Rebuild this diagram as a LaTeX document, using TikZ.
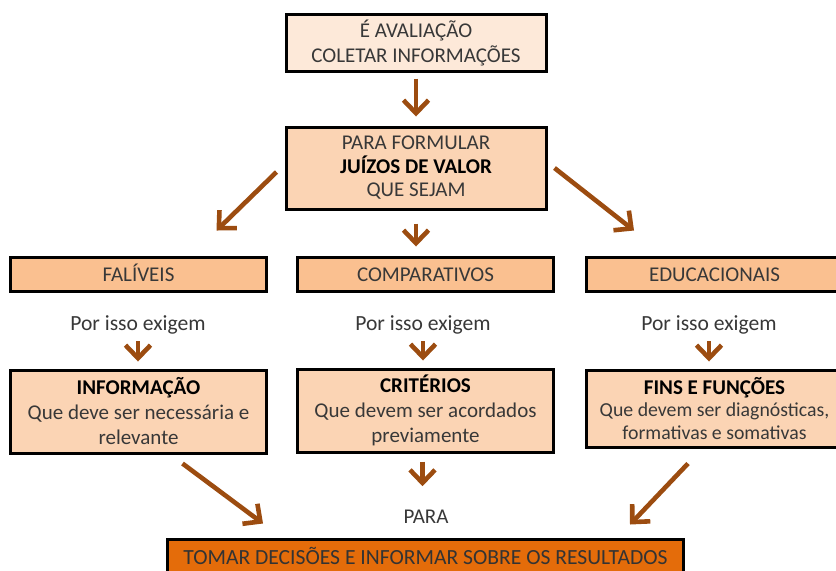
\documentclass[tikz,border=0pt]{standalone}
\usepackage{fontspec}
\setmainfont{Carlito}
\usetikzlibrary{arrows.meta,calc}
\definecolor{peachA}{HTML}{FDE9D9}
\definecolor{peachB}{HTML}{FBD4B4}
\definecolor{peachC}{HTML}{FAC090}
\definecolor{orangeD}{HTML}{E46C0A}
\definecolor{arrowbrown}{RGB}{156,76,16}
\definecolor{txt}{HTML}{383838}

\begin{document}
\begin{tikzpicture}[x=0.5pt,y=-0.5pt,
    box/.style={draw=black,line width=1.5pt,align=center,text=txt,inner sep=0pt,
        font=\fontsize{10.5}{12.5}\selectfont},
    arr/.style={draw=arrowbrown,line width=2.3pt,-{Straight Barb[length=6.5pt,width=12.5pt]}},
    note/.style={text=txt,font=\fontsize{10.8}{12}\selectfont}]
    \useasboundingbox (0,0) rectangle (836,570);
    %draw top boxes
    \node[box,fill=peachA,minimum width=130pt,minimum height=28.5pt] (eval) at (416,42.5)
        {É AVALIAÇÃO\\COLETAR INFORMAÇÕES};
    \node[box,fill=peachB,minimum width=130pt,minimum height=41pt,
        font=\fontsize{10.5}{11.75}\selectfont] (juizo) at (416,168)
        {PARA FORMULAR\\\textbf{\color{black}JUÍZOS DE VALOR}\\QUE SEJAM};
    %draw the three columns
    \foreach \n/\x/\t in {falib/138.5/FALÍVEIS,comp/425.5/COMPARATIVOS,educ/714.5/EDUCACIONAIS}
        {%
            \node[box,fill=peachC,minimum width=128pt,minimum height=17pt,
                text height=7pt,text depth=0pt] (\n) at (\x,274) {\t};
        }
    \foreach \n/\x in {exigA/138,exigB/423,exigC/709}
        {%
            \node[note] (\n) at (\x,325) {Por isso exigem};
        }
    \node[box,fill=peachB,minimum width=128pt,minimum height=41.5pt] (info) at (138.5,411.5)
        {\textbf{\color{black}INFORMAÇÃO}\\Que deve ser necessária e\\relevante};
    \node[box,fill=peachB,minimum width=128pt,minimum height=41.5pt] (crit) at (425.5,410.5)
        {\textbf{\color{black}CRITÉRIOS}\\Que devem ser acordados\\previamente};
    \node[box,fill=peachB,minimum width=128pt,minimum height=38.5pt,
        font=\fontsize{9.9}{11.25}\selectfont] (fins) at (714.5,408.5)
        {\textbf{\fontsize{10.5}{11.25}\selectfont\color{black}FINS E FUNÇÕES}\\Que devem ser diagnósticas,\\formativas e somativas};
    %draw bottom
    \node[note,font=\fontsize{10.5}{12}\selectfont] (para) at (426,517) {PARA};
    \node[box,fill=orangeD,minimum width=258pt,minimum height=17pt,text=black!80,
        font=\fontsize{10.8}{12}\selectfont] (decide) at (425.5,556)
        {TOMAR DECISÕES E INFORMAR SOBRE OS RESULTADOS};
    %draw arrows
    \draw[arr] ($(eval.south)+(0,6)$) -- ($(juizo.north)+(0,-9)$);
    \draw[arr] ($(juizo.west)+(-8,4)$) -- ($(falib.north)+(78,-25)$);
    \draw[arr] ($(juizo.south)+(0,13)$) -- ($(juizo.south |- comp.north)+(0,-9)$);
    \draw[arr] ($(juizo.east)+(7,0)$) -- ($(educ.north)+(-80.5,-25)$);
    \foreach \a/\b in {exigA/info,exigB/crit,exigC/fins}
        {%
            \draw[arr,shorten >=3.5pt] (\a.south) -- (\a.south |- \b.north);
        }
    \draw[arr,shorten <=4pt,shorten >=8.5pt] ([xshift=-1.5pt]crit.south) -- ([xshift=-1.5pt]crit.south |- para.north);
    \draw[arr] ($(info.south)+(44,9)$) -- ($(decide.north)+(-162.5,-14)$);
    \draw[arr] ($(fins.south)+(-26.5,15)$) -- ($(decide.north)+(204.5,-13)$);
\end{tikzpicture}
\end{document}
